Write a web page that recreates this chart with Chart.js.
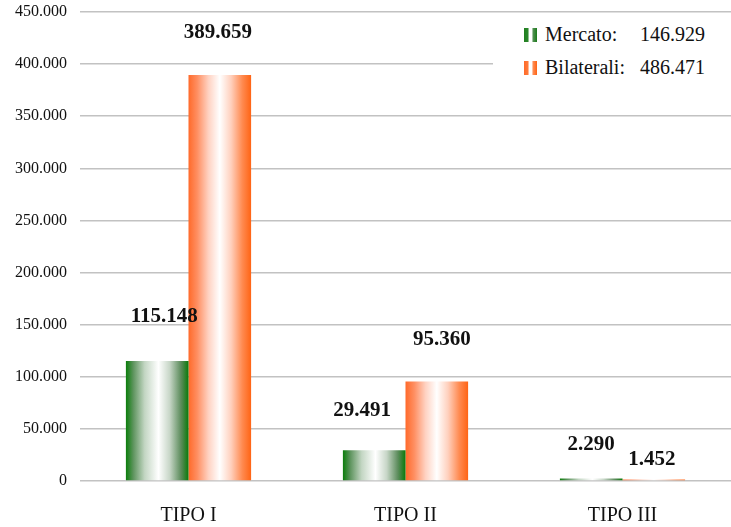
<!DOCTYPE html>
<html lang="it">
<head>
    <meta charset="UTF-8">
    <title>Mercato / Bilaterali</title>
    <script src="https://cdn.jsdelivr.net/npm/chart.js"></script>
    <style>
        body { margin: 0; background: #fff; }
        #box { position: relative; width: 731px; height: 527px; }
        #legenda {
            position: absolute; left: 493px; top: 18px; width: 238px; height: 68px;
            background: #fff; font-family: "Liberation Serif", serif; font-size: 20px; color: #111;
        }
        #legenda table { border-collapse: collapse; margin-left: 31px; }
        #legenda td { padding: 0; height: 33px; line-height: 33px; }
        .sw { display: inline-block; width: 13px; height: 14px; margin-right: 8px; vertical-align: -1px; }
        .valore { padding-left: 15px !important; }
    </style>
</head>
<body>
<div id="box">
    <canvas id="grafico" width="731" height="527"></canvas>
    <div id="legenda"></div>
</div>

<script>
    var categorie = ["TIPO I", "TIPO II", "TIPO III"];
    var mercato = [115148, 29491, 2290];
    var bilaterali = [389659, 95360, 1452];
    var nomiSerie = ["Mercato:", "Bilaterali:"];

    // piccoli spostamenti delle etichette come nell'originale
    var etichetteDx = [[7, -2], [-12, 5], [0, -2]];
    var etichetteDy = [[44, 42], [40, 42], [34, 20]];

    var catPerc = 0.577;

    function formatta(n) {
        return String(n).replace(/\B(?=(\d{3})+(?!\d))/g, ".");
    }

    var stopVerde = [[0, "#0b7d0b"], [0.12, "#5f955f"], [0.3, "#c3d6c3"], [0.52, "#ffffff"], [0.7, "#c7d6c7"], [0.88, "#5c8c5c"], [1, "#0a7a0a"]];
    var stopArancio = [[0, "#ff6a2a"], [0.14, "#ff8f62"], [0.32, "#ffd2c2"], [0.5, "#ffffff"], [0.68, "#ffd0bd"], [0.86, "#ff8a50"], [1, "#ff6414"]];

    function sfumatura(ctx, stops, base) {
        var chart = ctx.chart;
        var x = chart.scales.x;
        if (!x || !chart.chartArea) return base;
        var centro = x.getPixelForValue(ctx.dataIndex);
        var catW = (x.right - x.left) / categorie.length;
        var barW = catW * catPerc / 2;
        var sx = centro - barW + ctx.datasetIndex * barW;
        if (!isFinite(sx) || !isFinite(barW) || barW <= 0) return base;
        var g = chart.ctx.createLinearGradient(sx, 0, sx + barW, 0);
        stops.forEach(function (s) { g.addColorStop(s[0], s[1]); });
        return g;
    }

    var pluginEtichette = {
        id: "etichette",
        afterDatasetsDraw: function (chart) {
            var c = chart.ctx;
            c.save();
            c.font = "bold 21px 'Liberation Serif'";
            c.fillStyle = "#111";
            c.textAlign = "center";
            c.textBaseline = "middle";
            chart.data.datasets.forEach(function (ds, di) {
                chart.getDatasetMeta(di).data.forEach(function (el, i) {
                    c.fillText(formatta(ds.data[i]), el.x + etichetteDx[i][di], el.y - etichetteDy[i][di]);
                });
            });
            c.restore();
        }
    };

    var grafico = new Chart(document.getElementById("grafico").getContext("2d"), {
        type: "bar",
        data: {
            labels: categorie,
            datasets: [{
                label: nomiSerie[0],
                data: mercato,
                backgroundColor: function (ctx) { return sfumatura(ctx, stopVerde, "#0b7d0b"); },
                categoryPercentage: catPerc,
                barPercentage: 1
            },
            {
                label: nomiSerie[1],
                data: bilaterali,
                backgroundColor: function (ctx) { return sfumatura(ctx, stopArancio, "#ff6a2a"); },
                categoryPercentage: catPerc,
                barPercentage: 1
            }]
        },
        options: {
            responsive: false,
            animation: false,
            layout: { padding: { top: 12, right: 0, left: 0, bottom: 0 } },
            plugins: {
                legend: { display: false },
                title: { display: false },
                tooltip: { enabled: false }
            },
            scales: {
                x: {
                    grid: { display: false, drawTicks: false },
                    border: { display: false },
                    ticks: {
                        padding: 23,
                        color: "#111",
                        font: { family: "Liberation Serif", size: 20 }
                    },
                    afterFit: function (s) { s.height = 46; s.paddingTop = 0; }
                },
                y: {
                    min: 0,
                    max: 450000,
                    grid: { color: "#c2c2c2", lineWidth: 1.5, drawTicks: false },
                    border: { display: false },
                    ticks: {
                        stepSize: 50000,
                        padding: 13,
                        color: "#111",
                        font: { family: "Liberation Serif", size: 16 },
                        callback: function (v) { return formatta(v); }
                    },
                    afterFit: function (s) { s.width = 80; s.paddingTop = 0; s.paddingBottom = 0; }
                }
            }
        },
        plugins: [pluginEtichette]
    });

    // legenda con i totali
    var sw = [
        "linear-gradient(to right, #1f7f1f 0%, #2a862a 28%, #ffffff 42%, #ffffff 58%, #4f8f4f 72%, #1a7a1a 100%)",
        "linear-gradient(to right, #ff6a2a 0%, #ff7a3a 28%, #ffffff 42%, #ffffff 58%, #ff8a50 72%, #ff6414 100%)"
    ];
    var totali = [mercato, bilaterali].map(function (a) { return a.reduce(function (p, q) { return p + q; }, 0); });
    var html = "<table>";
    nomiSerie.forEach(function (n, i) {
        html += "<tr><td><span class='sw' style='background:" + sw[i] + "'></span>" + n + "</td>" +
            "<td class='valore'>" + formatta(totali[i]) + "</td></tr>";
    });
    legenda.innerHTML = html + "</table>";
</script>
</body>
</html>
